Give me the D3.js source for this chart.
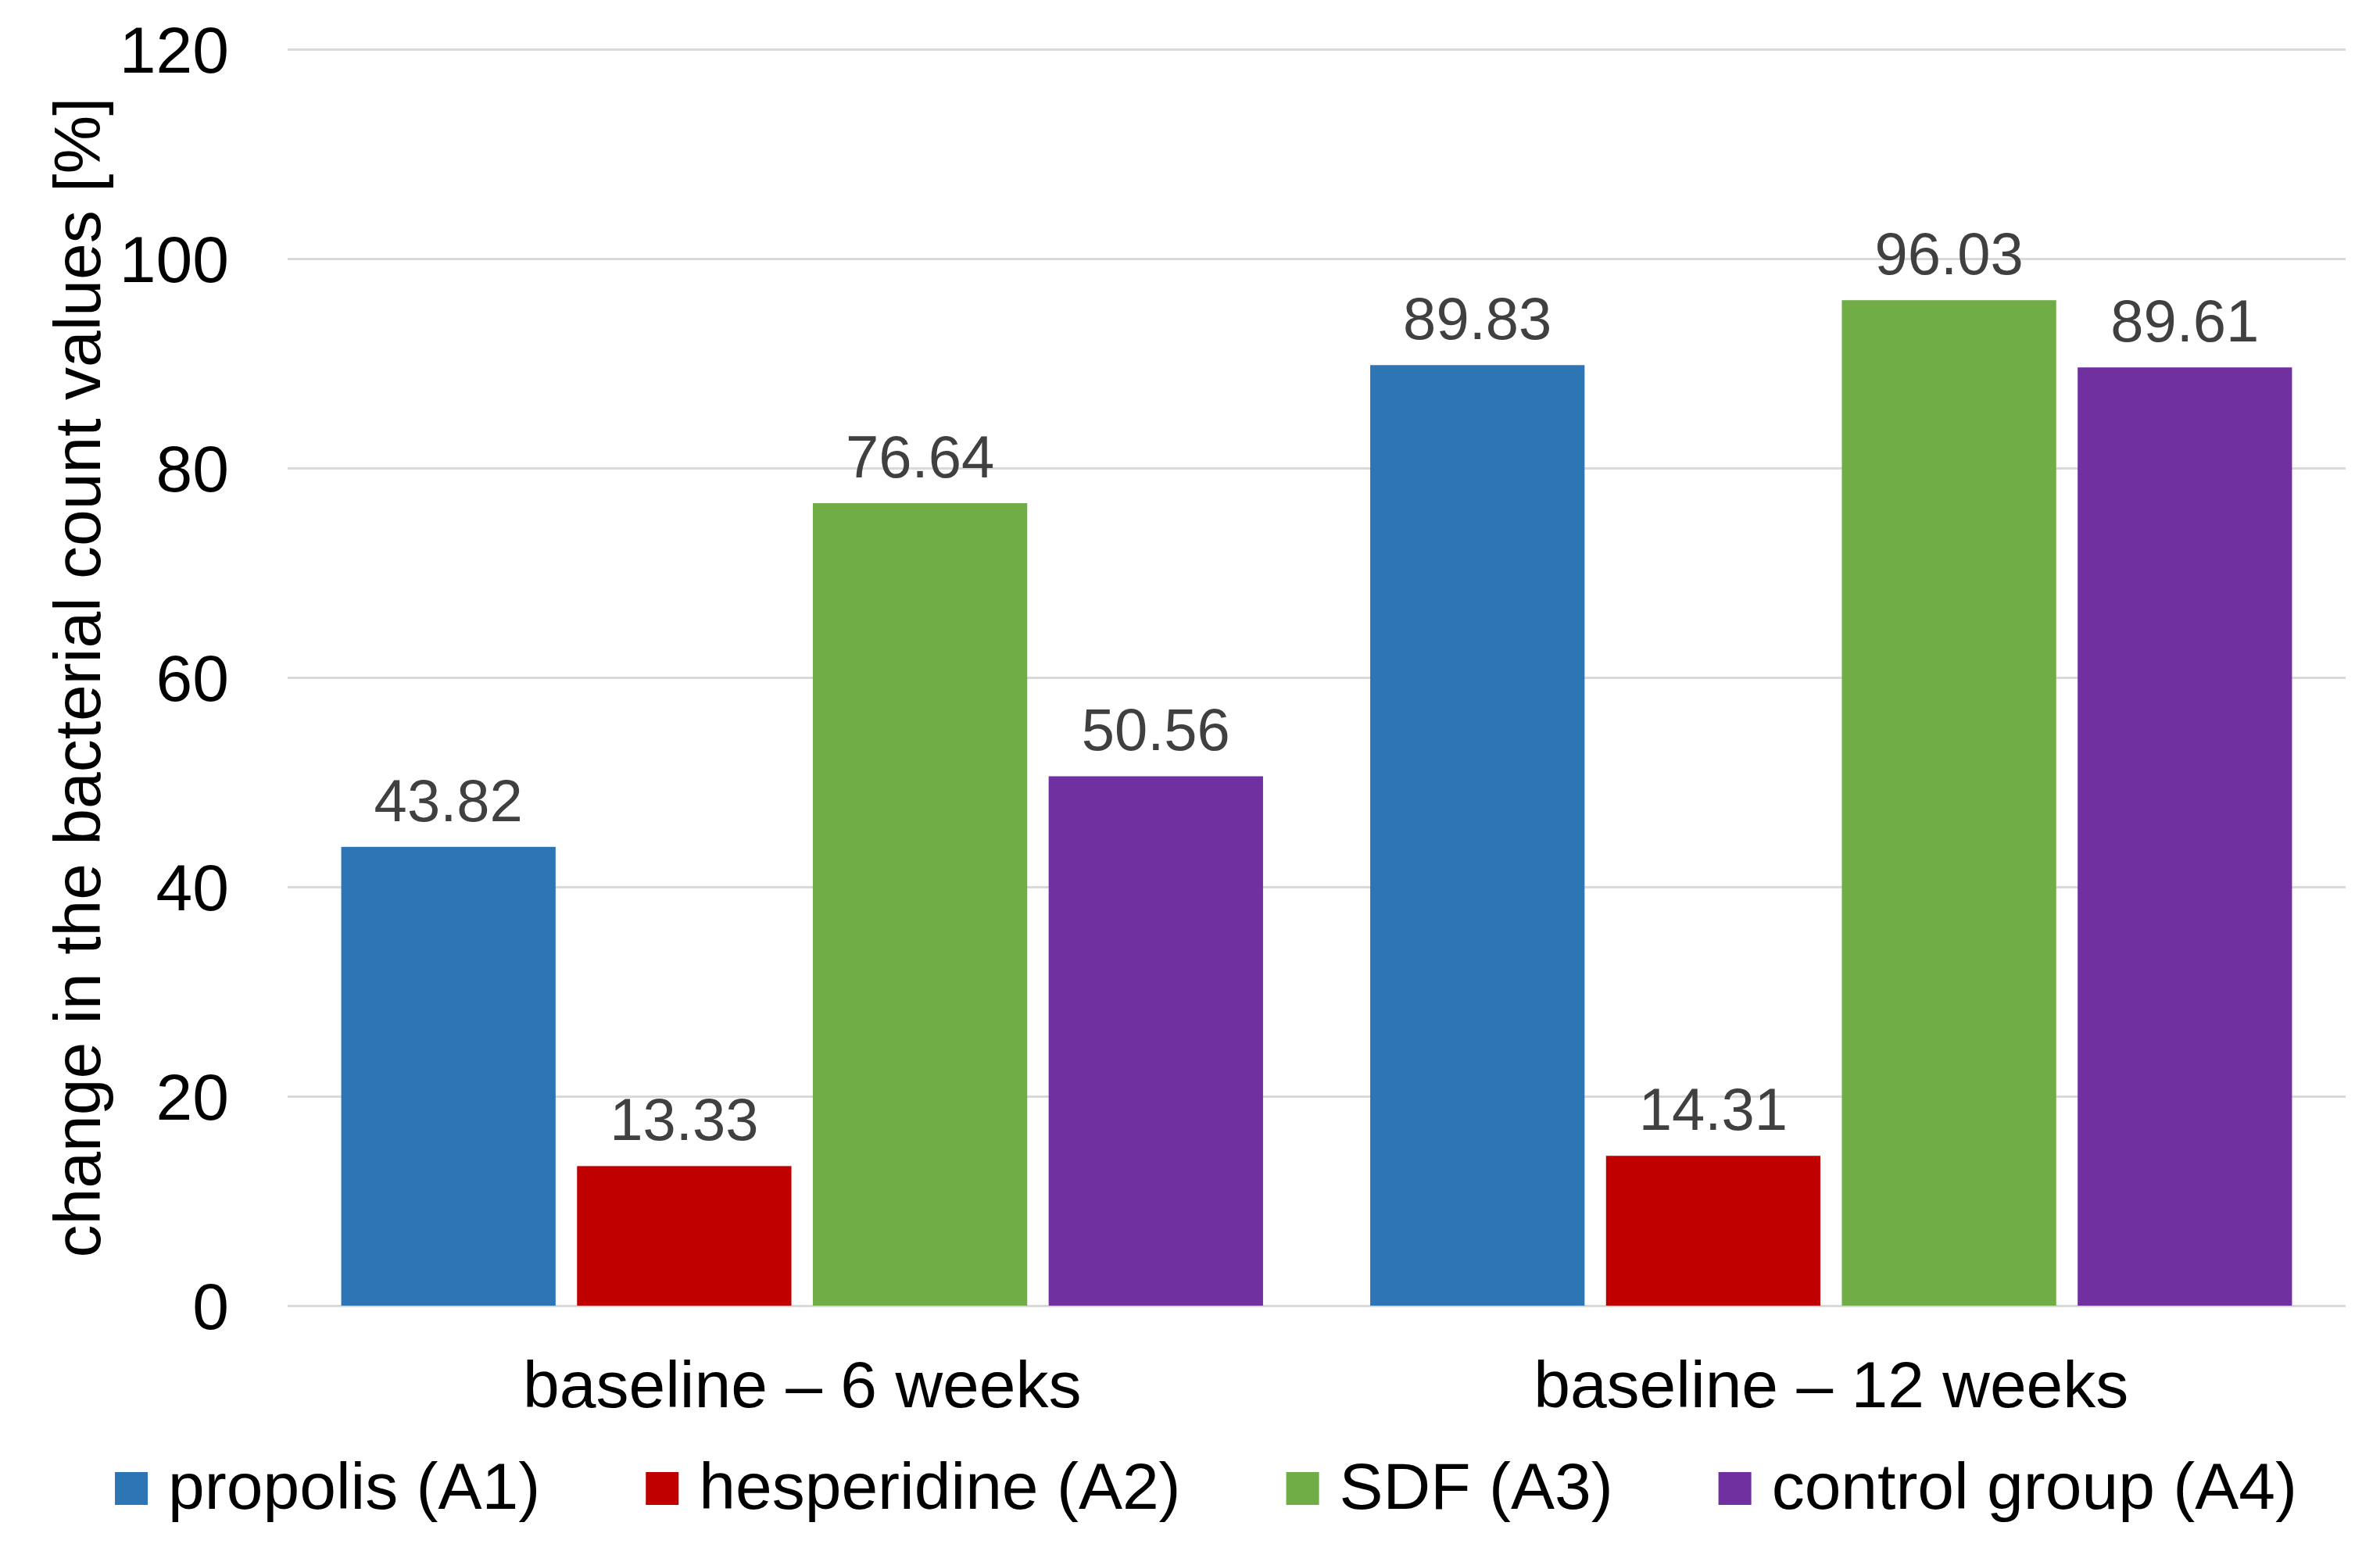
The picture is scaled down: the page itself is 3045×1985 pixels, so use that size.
<!DOCTYPE html>
<html>
<head>
<meta charset="utf-8">
<script src="https://cdn.jsdelivr.net/npm/d3@7"></script>
<style>
  body { margin: 0; background: #fff; }
  text { font-family: "Liberation Sans", Arial, sans-serif; }
</style>
</head>
<body>
<div id="chart"></div>
<script>
const categories = ["baseline – 6 weeks", "baseline – 12 weeks"];
const seriesNames = ["propolis (A1)", "hesperidine (A2)", "SDF (A3)", "control group (A4)"];
const propolis = [43.82, 89.83];
const hesperidine = [13.33, 14.31];
const sdf = [76.64, 96.03];
const control = [50.56, 89.61];
const yTicks = [0, 20, 40, 60, 80, 100, 120];
const colors = ["#2E75B6", "#C00000", "#70AD47", "#7030A0"];

const seriesValues = [propolis, hesperidine, sdf, control];

const width = 3045, height = 1985;
const plot = {left: 368, right: 3001, top: 63, bottom: 1671};

const svg = d3.select("#chart").append("svg")
    .attr("width", width)
    .attr("height", height);

svg.append("rect").attr("width", width).attr("height", height).attr("fill", "#fff");

const y = d3.scaleLinear()
    .domain([0, 120])
    .range([plot.bottom, plot.top]);

const x0 = d3.scaleBand()
    .domain(categories)
    .range([plot.left, plot.right]);

// Excel style: gap width 50%, overlap -10%
const x1 = d3.scaleBand()
    .domain(seriesNames)
    .range([0, x0.bandwidth()])
    .paddingInner(1 - 1 / 1.1)
    .paddingOuter(0.25 / 1.1);

// y axis with gridlines
const yAxis = svg.append("g")
    .attr("transform", `translate(${plot.left},0)`)
    .call(d3.axisLeft(y).tickValues(yTicks).tickSize(-(plot.right - plot.left)).tickPadding(75));
yAxis.select(".domain").remove();
yAxis.selectAll(".tick line").attr("stroke", "#D9D9D9").attr("stroke-width", 3);
yAxis.selectAll(".tick text")
    .attr("font-size", 84)
    .attr("fill", "#000")
    .attr("dy", "0.35em")
    .style("font-family", '"Liberation Sans", Arial, sans-serif');

// x axis labels
const xAxis = svg.append("g")
    .attr("transform", `translate(0,${plot.bottom})`)
    .call(d3.axisBottom(x0).tickSize(0).tickPadding(70));
xAxis.select(".domain").remove();
xAxis.selectAll(".tick text")
    .attr("font-size", 84)
    .attr("fill", "#000")
    .style("font-family", '"Liberation Sans", Arial, sans-serif');

// bars
const groups = svg.append("g").selectAll("g")
    .data(categories)
    .join("g")
    .attr("transform", d => `translate(${x0(d)},0)`);

groups.selectAll("rect")
    .data((c, ci) => seriesNames.map((s, si) => ({s, si, v: seriesValues[si][ci]})))
    .join("rect")
    .attr("x", d => x1(d.s))
    .attr("width", x1.bandwidth())
    .attr("y", d => y(d.v))
    .attr("height", d => y(0) - y(d.v))
    .attr("fill", d => colors[d.si]);

groups.selectAll("text.lbl")
    .data((c, ci) => seriesNames.map((s, si) => ({s, si, v: seriesValues[si][ci]})))
    .join("text")
    .attr("class", "lbl")
    .attr("x", d => x1(d.s) + x1.bandwidth() / 2)
    .attr("y", d => y(d.v) - 33)
    .attr("text-anchor", "middle")
    .attr("font-size", 76)
    .attr("fill", "#404040")
    .text(d => d.v.toFixed(2));

// y axis title
svg.append("text")
    .attr("transform", `translate(128,${(plot.top + plot.bottom) / 2}) rotate(-90)`)
    .attr("text-anchor", "middle")
    .attr("font-size", 84)
    .attr("fill", "#000")
    .text("change in the bacterial count values [%]");

// legend
const legend = svg.append("g");
const sw = 42, textGap = 26, itemGap = 135;
const items = legend.selectAll("g")
    .data(seriesNames)
    .join("g");
items.append("rect")
    .attr("width", sw).attr("height", sw)
    .attr("y", 1884)
    .attr("fill", (d, i) => colors[i]);
items.append("text")
    .attr("x", sw + textGap)
    .attr("y", 1931)
    .attr("font-size", 84)
    .attr("fill", "#000")
    .text(d => d);

let offsets = [], cur = 0;
items.each(function () {
    offsets.push(cur);
    const w = d3.select(this).select("text").node().getComputedTextLength();
    cur += sw + textGap + w + itemGap;
});
const total = cur - itemGap;
const legendStart = 1543 - total / 2;
items.attr("transform", (d, i) => `translate(${legendStart + offsets[i]},0)`);
</script>
</body>
</html>
